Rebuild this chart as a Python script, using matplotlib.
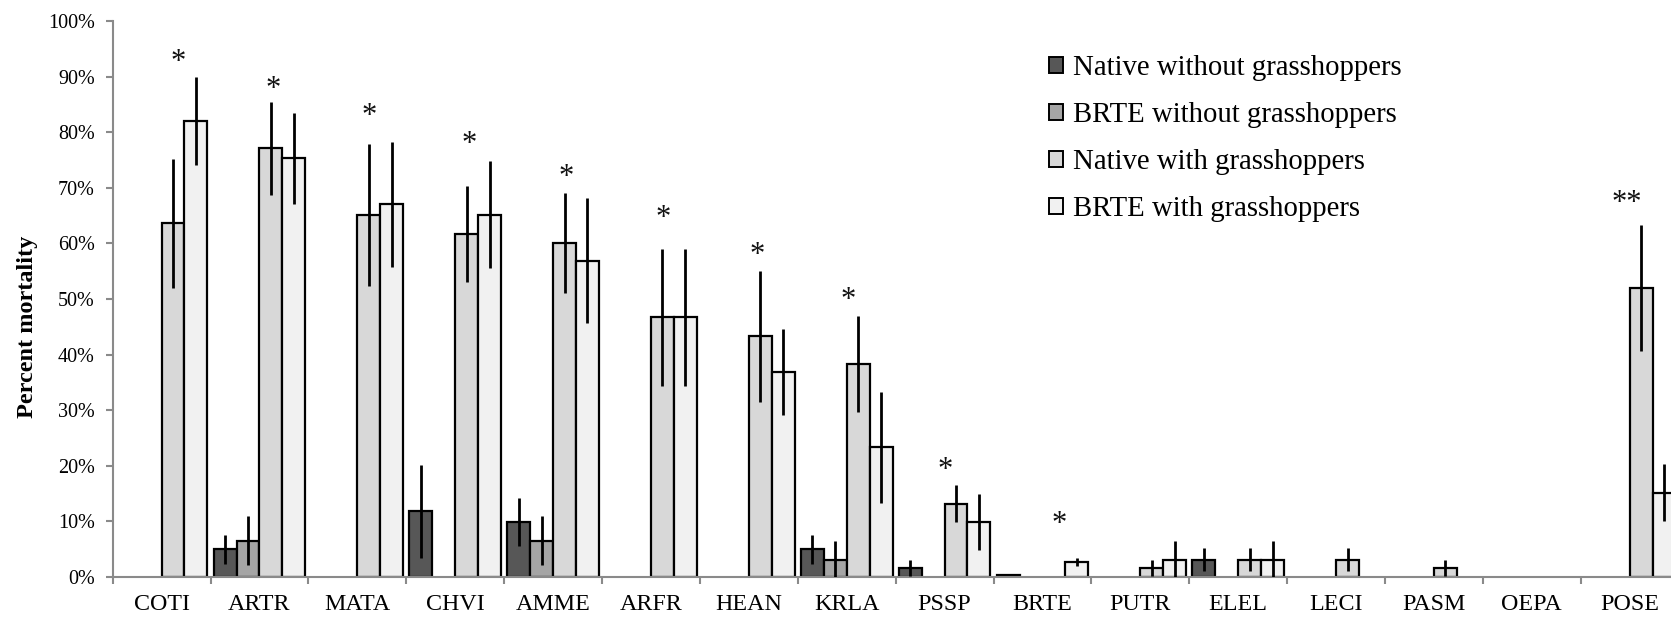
import matplotlib
matplotlib.use("Agg")
import matplotlib.pyplot as plt
from matplotlib.patches import Patch
import numpy as np

plt.rcParams["font.family"] = ["Liberation Serif", "DejaVu Serif"]

# Species (x categories)
categories = ["COTI", "ARTR", "MATA", "CHVI", "AMME", "ARFR", "HEAN", "KRLA",
              "PSSP", "BRTE", "PUTR", "ELEL", "LECI", "PASM", "OEPA", "POSE"]

series_names = ["Native without grasshoppers", "BRTE without grasshoppers",
                "Native with grasshoppers", "BRTE with grasshoppers"]

# Percent mortality (mean) and standard error per treatment
native_without = [0, 5.0, 0, 11.8, 9.9, 0, 0, 5.0, 1.6, 0.4, 0, 3.1, 0, 0, 0, 0]
native_without_err = [0, 2.6, 0, 8.3, 4.4, 0, 0, 2.6, 1.5, 0, 0, 2.1, 0, 0, 0, 0]

brte_without = [0, 6.5, 0, 0, 6.5, 0, 0, 3.1, 0, 0, 0, 0, 0, 0, 0, 0]
brte_without_err = [0, 4.4, 0, 0, 4.4, 0, 0, 3.3, 0, 0, 0, 0, 0, 0, 0, 0]

native_with = [63.6, 77.1, 65.1, 61.7, 60.1, 46.7, 43.3, 38.3, 13.2, 0, 1.6, 3.1,
               3.1, 1.6, 0, 52.0]
native_with_err = [11.6, 8.4, 12.8, 8.7, 9.0, 12.3, 11.8, 8.6, 3.3, 0, 1.5, 2.1,
                   2.1, 1.4, 0, 11.4]

brte_with = [82.0, 75.3, 67.0, 65.2, 56.9, 46.7, 36.9, 23.3, 9.9, 2.7, 3.1, 3.1,
             0, 0, 0, 15.2]
brte_with_err = [7.9, 8.2, 11.2, 9.6, 11.3, 12.3, 7.7, 10.0, 5.0, 0.8, 3.3, 3.3,
                 0, 0, 0, 5.2]

# Significance markers: category, label, height (%)
sig_categories = ["COTI", "ARTR", "MATA", "CHVI", "AMME", "ARFR", "HEAN", "KRLA",
                  "PSSP", "BRTE", "POSE"]
sig_labels = ["*", "*", "*", "*", "*", "*", "*", "*", "*", "*", "**"]
sig_heights = [94.3, 89.5, 84.6, 79.6, 73.7, 66.2, 59.6, 51.6, 20.9, 11.2, 69.0]

y_ticks = list(range(0, 101, 10))

values = [native_without, brte_without, native_with, brte_with]
errors = [native_without_err, brte_without_err, native_with_err, brte_with_err]
colors = ["#575757", "#a5a5a5", "#d8d8d8", "#f1f1f1"]

fig = plt.figure(figsize=(16.71, 6.18), dpi=100)
ax = fig.add_axes([0.0674, 0.0663, 0.9372, 0.8997])

n = len(categories)
centers = np.arange(n) + 0.5
bar_w = 0.234
for k, (vals, errs, col) in enumerate(zip(values, errors, colors)):
    vals = np.asarray(vals, dtype=float)
    errs = np.asarray(errs, dtype=float)
    xs = centers + (k - 1.5) * bar_w
    shown = vals > 0
    ax.bar(xs[shown], vals[shown], width=bar_w, color=col, edgecolor="black",
           linewidth=1.6, zorder=2)
    with_err = shown & (errs > 0)
    ax.errorbar(xs[with_err], vals[with_err], yerr=errs[with_err], fmt="none",
                ecolor="black", elinewidth=2.0, capsize=0, zorder=3)

# significance asterisks, horizontal nudges in category units
star_shift = [0.17, 0.14, 0.12, 0.14, 0.13, 0.12, 0.08, 0.01, 0.01, 0.17, -0.03]
fs_star = 22
for cat, lab, h, dx in zip(sig_categories, sig_labels, sig_heights, star_shift):
    i = categories.index(cat)
    ax.annotate(lab, xy=(centers[i] + dx, h), xytext=(0, -0.57 * fs_star),
                textcoords="offset points", ha="center", va="baseline",
                fontsize=fs_star, color="#111111")

ax.set_xlim(0, n)
ax.set_ylim(0, 100)
ax.set_yticks(y_ticks)
ax.set_yticklabels([f"{t}%" for t in y_ticks], fontsize=14.5)

ax.set_xticks(np.arange(n + 1))
ax.set_xticklabels([])
ax.set_xticks(centers, minor=True)
ax.set_xticklabels(categories, minor=True, fontsize=17.3)

spine_col = "#8a8a8a"
for s in ["top", "right"]:
    ax.spines[s].set_visible(False)
for s in ["left", "bottom"]:
    ax.spines[s].set_color(spine_col)
    ax.spines[s].set_linewidth(1.5)
ax.tick_params(axis="y", direction="out", length=5, width=1.5, color=spine_col,
               pad=7.7, labelcolor="black")
ax.tick_params(axis="x", which="major", direction="out", length=5, width=1.5,
               color=spine_col)
ax.tick_params(axis="x", which="minor", length=0, pad=12.5, labelcolor="black")

fig.text(28 / 1671, 1 - 327 / 618, "Percent mortality", rotation=90,
         ha="center", va="center", fontsize=17.5, fontweight="bold")

handles = [Patch(facecolor=c, edgecolor="black", linewidth=1.4) for c in colors]
fig.legend(handles, series_names, loc="upper left",
           bbox_to_anchor=(0.6278, 0.911), frameon=False, fontsize=20.7,
           borderpad=0, borderaxespad=0, handlelength=0.5, handleheight=0.5,
           handletextpad=0.33, labelspacing=0.73)

fig.savefig("out.png", dpi=100)
